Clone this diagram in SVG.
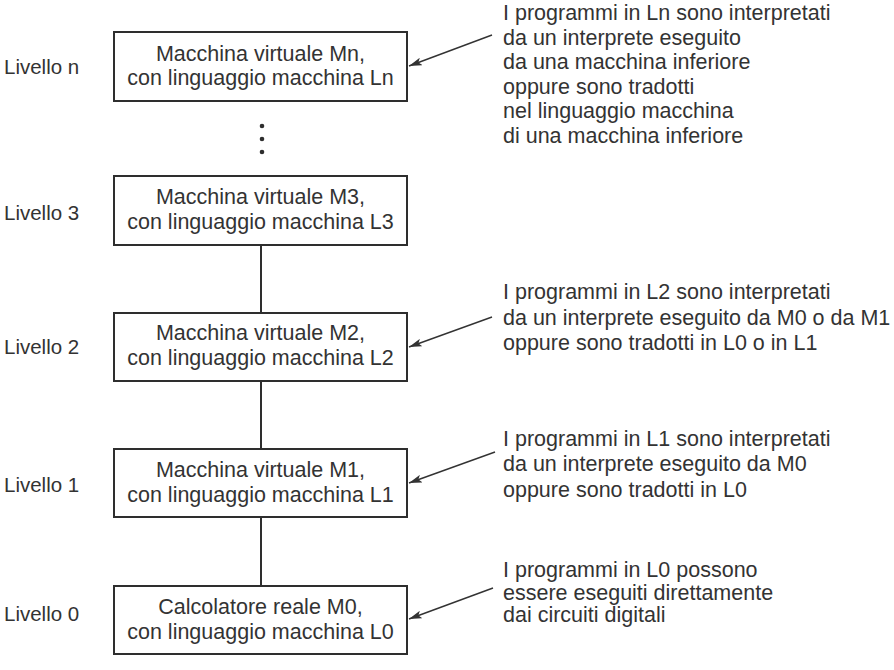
<svg xmlns="http://www.w3.org/2000/svg" width="894" height="670" viewBox="0 0 894 670">
<style>
text{font-family:"Liberation Sans",Arial,sans-serif;font-size:21.5px;fill:#333}
.lab{font-size:20.5px}
.box{fill:#fff;stroke:#2e2e2e;stroke-width:2}
.c{text-anchor:middle}
.ln{stroke:#2e2e2e;stroke-width:2;fill:none}
.ar{stroke:#333;stroke-width:1.4;fill:none;marker-end:url(#ah)}
</style>
<defs>
<marker id="ah" markerUnits="userSpaceOnUse" markerWidth="14" markerHeight="8" refX="13" refY="4" orient="auto">
<path d="M0,0 L13,4 L0,8 L3,4 Z" fill="#333"/>
</marker>
</defs>
<rect width="894" height="670" fill="#fff"/>
<g id="connectors">
<line class="ln" x1="261" y1="245" x2="261" y2="313"/>
<line class="ln" x1="261" y1="381" x2="261" y2="449"/>
<line class="ln" x1="261" y1="517" x2="261" y2="586"/>
<line class="ar" x1="492" y1="35" x2="409" y2="66"/>
<line class="ar" x1="492" y1="317" x2="409" y2="347"/>
<line class="ar" x1="495" y1="452" x2="409" y2="483"/>
<line class="ar" x1="493" y1="588" x2="409" y2="619"/>
</g>
<g id="dots" fill="#2e2e2e">
<circle cx="262" cy="126" r="2.3"/>
<circle cx="262" cy="139" r="2.3"/>
<circle cx="262" cy="152" r="2.3"/>
</g>
<g id="node-n">
<rect class="box" x="114" y="32" width="293" height="69"/>
<text class="c" x="260.5" y="61">Macchina virtuale Mn,</text>
<text class="c" x="260.5" y="85">con linguaggio macchina Ln</text>
<text class="lab" x="4" y="74">Livello n</text>
</g>
<g id="node-3">
<rect class="box" x="114" y="176" width="293" height="69"/>
<text class="c" x="260.5" y="204">Macchina virtuale M3,</text>
<text class="c" x="260.5" y="229">con linguaggio macchina L3</text>
<text class="lab" x="4" y="220">Livello 3</text>
</g>
<g id="node-2">
<rect class="box" x="114" y="313" width="293" height="68"/>
<text class="c" x="260.5" y="340">Macchina virtuale M2,</text>
<text class="c" x="260.5" y="365">con linguaggio macchina L2</text>
<text class="lab" x="4" y="354">Livello 2</text>
</g>
<g id="node-1">
<rect class="box" x="114" y="449" width="293" height="68"/>
<text class="c" x="260.5" y="477">Macchina virtuale M1,</text>
<text class="c" x="260.5" y="502">con linguaggio macchina L1</text>
<text class="lab" x="4" y="492">Livello 1</text>
</g>
<g id="node-0">
<rect class="box" x="114" y="586" width="293" height="68"/>
<text class="c" x="260.5" y="614">Calcolatore reale M0,</text>
<text class="c" x="260.5" y="639">con linguaggio macchina L0</text>
<text class="lab" x="4" y="621">Livello 0</text>
</g>
<g id="note-n">
<text x="503" y="20">I programmi in Ln sono interpretati</text>
<text x="503" y="44.5">da un interprete eseguito</text>
<text x="503" y="69">da una macchina inferiore</text>
<text x="503" y="93.5">oppure sono tradotti</text>
<text x="503" y="118">nel linguaggio macchina</text>
<text x="503" y="143">di una macchina inferiore</text>
</g>
<g id="note-2">
<text x="503" y="299">I programmi in L2 sono interpretati</text>
<text x="503" y="325">da un interprete eseguito da M0 o da M1</text>
<text x="503" y="350">oppure sono tradotti in L0 o in L1</text>
</g>
<g id="note-1">
<text x="503" y="446">I programmi in L1 sono interpretati</text>
<text x="503" y="471">da un interprete eseguito da M0</text>
<text x="503" y="497">oppure sono tradotti in L0</text>
</g>
<g id="note-0">
<text x="503" y="577">I programmi in L0 possono</text>
<text x="503" y="600">essere eseguiti direttamente</text>
<text x="503" y="622">dai circuiti digitali</text>
</g>
</svg>
